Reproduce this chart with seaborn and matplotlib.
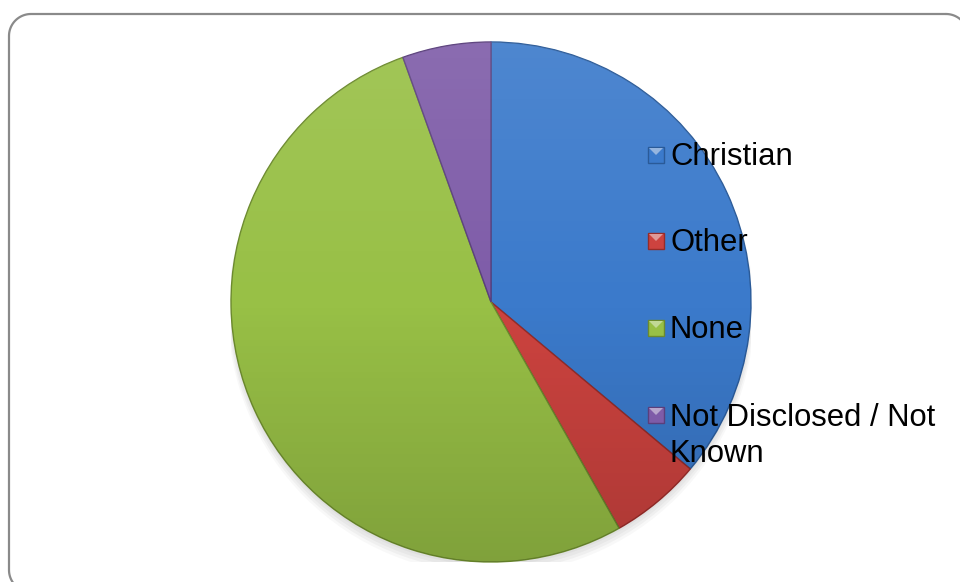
import numpy as np
import matplotlib
matplotlib.use("Agg")
import matplotlib.pyplot as plt
from matplotlib.patches import Rectangle, Circle, Polygon
import seaborn as sns

# Religion breakdown (percent of respondents)
categories = ["Christian", "Other", "None", "Not Disclosed / Not Known"]
shares = [36.1, 5.7, 52.7, 5.5]
legend_labels = ["Christian", "Other", "None", "Not Disclosed / Not\nKnown"]

slice_colors = ["#3b7acb", "#cd433f", "#98c046", "#7e5ca8"]
edge_colors = ["#2a5a98", "#962c29", "#6c8a2e", "#5a3f7c"]

sns.set_theme(style="white")
plt.rcParams["font.family"] = ["Liberation Sans", "DejaVu Sans"]
palette = sns.color_palette(slice_colors)

W, H = 960, 582
fig = plt.figure(figsize=(W / 100, H / 100), dpi=100)
fig.patch.set_facecolor("white")

# overlay axes in pixel units (origin top-left) for the frame
pix = fig.add_axes([0, 0, 1, 1], zorder=0)
pix.set_xlim(0, W)
pix.set_ylim(H, 0)
pix.axis("off")


def rounded_rect(x0, y0, x1, y1, rad, n=24):
    """Outline of a rounded rectangle in y-down pixel coordinates."""
    corners = [(x1 - rad, y0 + rad, -90, 0), (x1 - rad, y1 - rad, 0, 90),
               (x0 + rad, y1 - rad, 90, 180), (x0 + rad, y0 + rad, 180, 270)]
    xs, ys = [], []
    for ccx, ccy, a0, a1 in corners:
        a = np.radians(np.linspace(a0, a1, n))
        xs.extend(ccx + rad * np.cos(a))
        ys.extend(ccy + rad * np.sin(a))
    xs.append(xs[0])
    ys.append(ys[0])
    return xs, ys


fx, fy = rounded_rect(9, 14, 968, 592, 22)
pix.plot(fx, fy, color="#8a8a8a", linewidth=1.6, solid_capstyle="round")

# pie axes: centre (491, 302) px from top-left, radius 260 px
cx, cy, r = 491, 302, 260
ax = fig.add_axes([(cx - r) / W, (H - cy - r) / H, 2 * r / W, 2 * r / H], zorder=1)
ax.set_xlim(-1, 1)
ax.set_ylim(-1, 1)
ax.axis("off")

# soft drop shadow below the pie
for k, a in enumerate([0.05, 0.05, 0.05, 0.04]):
    ax.add_patch(Circle((0.0, -0.012 - 0.008 * k), 1.0 + 0.004 * k,
                        facecolor="#555555", edgecolor="none", alpha=a, zorder=0))

wedges, _ = ax.pie(shares, colors=palette, startangle=90, counterclock=False,
                   radius=1.0, wedgeprops=dict(linewidth=1.0))
for w, ec in zip(wedges, edge_colors):
    w.set_edgecolor(ec)
    w.set_zorder(2)

# vertical lighting gradient over the pie surface
ny = 256
t = np.linspace(0, 1, ny)[:, None]
grad = np.zeros((ny, 2, 4))
light = np.clip(1 - 2 * t, 0, 1)
dark = np.clip(2 * t - 1, 0, 1)
grad[..., 0:3] = np.where(t[..., None] < 0.5, 1.0, 0.0)
grad[..., 3] = (0.10 * light + 0.16 * dark)[:, :1].repeat(2, axis=1)
img = ax.imshow(grad, extent=(-1, 1, -1, 1), origin="upper",
                aspect="auto", zorder=3, interpolation="bilinear")
img.set_clip_path(Circle((0, 0), 1.0, transform=ax.transData))
ax.set_xlim(-1, 1)
ax.set_ylim(-1, 1)

# legend on top of the pie: bevelled square markers and labels
leg = fig.add_axes([0, 0, 1, 1], zorder=2)
leg.set_xlim(0, W)
leg.set_ylim(H, 0)
leg.axis("off")
baselines = [165, 251, 338, 425]
mx, msz = 648, 16
for lab, col, ec, yb in zip(legend_labels, slice_colors, edge_colors, baselines):
    top = yb - 10 - msz / 2
    leg.add_patch(Rectangle((mx, top), msz, msz, facecolor=col, edgecolor=ec,
                            linewidth=1.0))
    hi = sns.light_palette(col, 3)[1]
    leg.add_patch(Polygon([(mx + 1, top + 1), (mx + msz - 1, top + 1),
                           (mx + msz / 2, top + msz / 2)],
                          closed=True, facecolor=hi, edgecolor="none"))
    # baseline alignment anchors the last line; shift multi-line labels down
    n_extra = lab.count("\n")
    leg.text(mx + msz + 6, yb + 37 * n_extra, lab, fontsize=22.3,
             color="black", ha="left", va="baseline", linespacing=1.25)

fig.savefig("out.png", dpi=100)
